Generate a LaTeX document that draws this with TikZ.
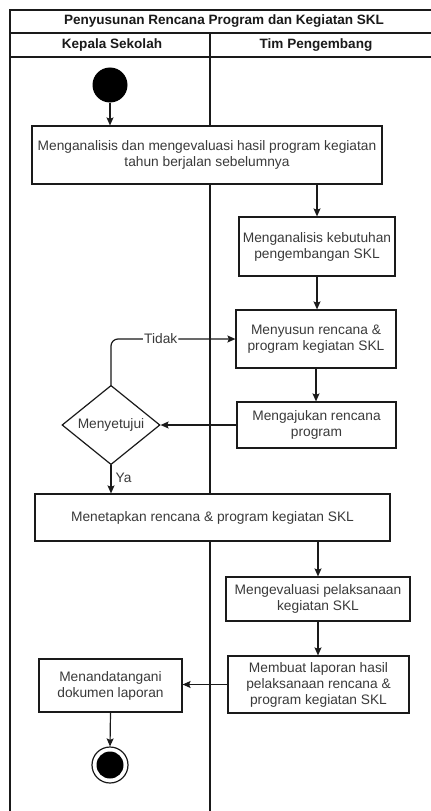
\documentclass[tikz,border=0pt]{standalone}
\usepackage{fontspec}
\setmainfont{Liberation Sans}
\usetikzlibrary{shapes.geometric,arrows.meta}

\definecolor{ink}{HTML}{1A1A1A}
\definecolor{txt}{HTML}{3A3A3A}

\tikzset{
  frame/.style={draw=ink, line width=2.2bp},
  lane/.style={draw=ink, line width=1.8bp},
  act/.style={draw=ink, fill=white, line width=1.2bp, text=txt, align=center,
    inner sep=0pt, font=\fontsize{13.8}{16}\selectfont},
  decide/.style={shape=diamond, draw=ink, fill=white, line width=1.2bp, text=txt,
    inner sep=0pt, font=\fontsize{13.8}{16}\selectfont},
  head/.style={text=ink, font=\bfseries\fontsize{13.6}{16}\selectfont},
  flow/.style={draw=ink, line width=1.2bp, -{Stealth[length=8bp,width=7bp,inset=1.5bp]}},
  tag/.style={text=txt, font=\fontsize{13.8}{16}\selectfont, inner sep=1pt},
}

\begin{document}
\begin{tikzpicture}[x=1bp,y=-1bp]
\useasboundingbox (0,0) rectangle (430,811);
\fill[white] (0,0) rectangle (430,811);

% swimlane frame
\draw[frame] (445,10) -- (10,10) -- (10,820);
\draw[lane] (10,33) -- (445,33);
\draw[lane] (10,57) -- (445,57);
\draw[lane] (210,33) -- (210,820);

\node[head] (title) at (224,21.5) {Penyusunan Rencana Program dan Kegiatan SKL};
\node[head] (laneA) at (112,45) {Kepala Sekolah};
\node[head] (laneB) at (316,45) {Tim Pengembang};

% start and end
\node[circle, fill=black, minimum size=35bp, inner sep=0pt] (start) at (110,85) {};
\node[circle, draw=ink, line width=1.2bp, minimum size=36bp, inner sep=0pt] (stop) at (110,765) {};
\node[circle, fill=black, minimum size=27bp, inner sep=0pt] (stopdot) at (110,765) {};

% activities
\node[act, minimum width=350bp, minimum height=58bp] (a1) at (207,155)
  {Menganalisis dan mengevaluasi hasil program kegiatan\\tahun berjalan sebelumnya};
\node[act, minimum width=156bp, minimum height=59bp] (a2) at (317,246.5)
  {Menganalisis kebutuhan\\pengembangan SKL};
\node[act, minimum width=160bp, minimum height=58bp] (a3) at (316,339)
  {Menyusun rencana \&\\program kegiatan SKL};
\node[act, minimum width=159bp, minimum height=46bp] (a4) at (316.5,425)
  {Mengajukan rencana\\program};
\node[decide, minimum width=98bp, minimum height=68bp] (d1) at (111,425) {Menyetujui};
\node[act, minimum width=355bp, minimum height=47bp] (a5) at (212.5,517.5)
  {Menetapkan rencana \& program kegiatan SKL};
\node[act, minimum width=184bp, minimum height=44bp] (a6) at (318,599)
  {Mengevaluasi pelaksanaan\\kegiatan SKL};
\node[act, minimum width=181bp, minimum height=57bp] (a7) at (318.5,684.5)
  {Membuat laporan hasil\\pelaksanaan rencana \&\\program kegiatan SKL};
\node[act, minimum width=143bp, minimum height=53bp] (a8) at (110.5,685.5)
  {Menandatangani\\dokumen laporan};

% control flow
\draw[flow] (start) -- (start |- a1.north);
\draw[flow] (a2.north |- a1.south) -- (a2.north);
\draw[flow] (a2.south) -- (a2.south |- a3.north);
\draw[flow] (a3.south) -- (a3.south |- a4.north);
\draw[flow] (a4.west) -- (d1.east);
\draw[flow, rounded corners=7bp] (d1.north) |- node[tag, fill=white, pos=0.7] {Tidak} (a3.west);
\draw[flow] (d1.south) -- node[tag, right, pos=0.45, xshift=3bp] {Ya} (d1.south |- a5.north);
\draw[flow] (a6.north |- a5.south) -- (a6.north);
\draw[flow] (a6.south) -- (a6.south |- a7.north);
\draw[flow] (a7.west) -- (a7.west -| a8.east);
\draw[flow] (a8.south) -- (stop.north);
\end{tikzpicture}
\end{document}
